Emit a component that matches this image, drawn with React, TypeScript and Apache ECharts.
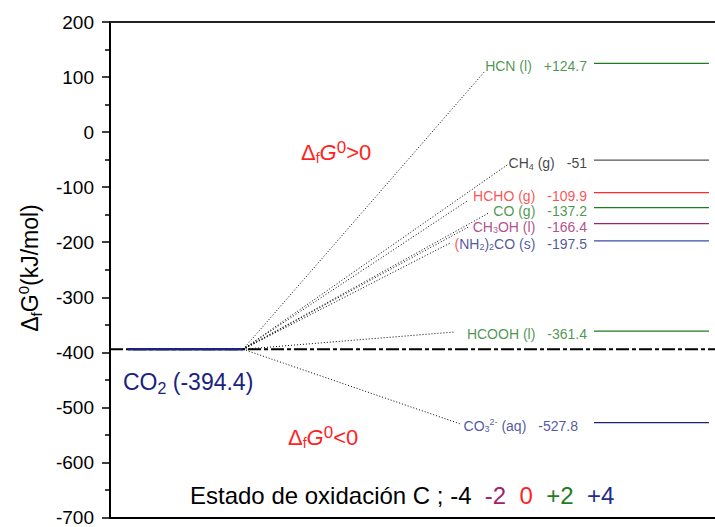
import { useEffect, useRef } from 'react';
import * as echarts from 'echarts';

const FONT = '"Liberation Sans", Arial, sans-serif';

// Reference: CO2 formation energy and its level on the diagram (x domain 0..100)
const CO2_VALUE = -394.4;
const CO2_SPAN = [3, 22];
const REF_SPAN = [0, 100];

// Products of CO2 reduction (rich-text markup for sub/superscripts)
const species = [
  'HCN (l)',
  'CH{sub|4} (g)',
  'HCHO (g)',
  'CO (g)',
  'CH{sub|3}OH (l)',
  '{red|(}NH{sub|2}){sub|2}CO (s)',
  'HCOOH (l)',
  'CO{sub|3}{sup|2-} (aq)',
];
// Standard Gibbs energy of formation, kJ/mol
const gibbs = [124.7, -51, -109.9, -137.2, -166.4, -197.5, -361.4, -527.8];
const textColors = ['#1e7b1e', '#111111', '#ff1f1f', '#1e7b1e', '#a0226e', '#1f2d8c', '#1e7b1e', '#1f2d8c'];
const lineColors = ['#1e7b1e', '#555555', '#ff2a2a', '#1e7b1e', '#a0226e', '#3a4aa8', '#1e7b1e', '#1a237e'];
// Where each dotted connector from the CO2 level ends
const connectorX = [62.0, 65.8, 59.2, 62.5, 59.2, 56.2, 57.0, 57.9];
const connectorY = [111, -58.5, -124, -147.5, -172.6, -201.6, -363, -530];
const labelGap = [7, 7, 7, 7, 7, 7, 7, 16];
const LEVEL_SPAN = [80, 99];

// Y axis
const Y_MIN = -700;
const Y_MAX = 200;
const Y_STEP = 100;

// Oxidation states of carbon shown in the legend line
const oxStates = ['-4', '-2', '0', '+2', '+4'];
const oxColors = ['#000000', '#a0226e', '#ff1f1f', '#1e7b1e', '#1f2d8c'];

const fmtValue = (v: number) => (v > 0 ? `+${v}` : `${v}`);

export default function App() {
  const ref = useRef<HTMLDivElement>(null);

  useEffect(() => {
    if (!ref.current) return;
    const chart = echarts.init(ref.current, null, { renderer: 'svg' });

    const levelSeries = gibbs.map((v, i) => ({
      type: 'line',
      data: [
        [LEVEL_SPAN[0], v],
        [LEVEL_SPAN[1], v],
      ],
      symbol: 'none',
      silent: true,
      lineStyle: { color: lineColors[i], width: 1.3 },
      z: 3,
    }));

    const connectorSeries = gibbs.map((_, i) => ({
      type: 'line',
      data: [
        [CO2_SPAN[1], CO2_VALUE],
        [connectorX[i], connectorY[i]],
      ],
      symbol: 'none',
      silent: true,
      lineStyle: { color: '#000', width: 1, type: [1, 2] },
      z: 2,
    }));

    const labelSeries = {
      type: 'scatter',
      symbol: 'circle',
      symbolSize: 0,
      itemStyle: { color: 'rgba(0,0,0,0)' },
      silent: true,
      z: 4,
      data: gibbs.map((v, i) => ({
        value: [LEVEL_SPAN[0], v],
        label: {
          show: true,
          position: 'left',
          distance: labelGap[i],
          offset: [0, 3],
          color: textColors[i],
          fontSize: 14,
          fontFamily: FONT,
          lineHeight: 16,
          formatter: `${species[i]}{val|${fmtValue(v)}}`,
          rich: {
            sub: { fontSize: 9, lineHeight: 7, verticalAlign: 'bottom', fontFamily: FONT },
            sup: { fontSize: 9, lineHeight: 8, verticalAlign: 'top', fontFamily: FONT },
            red: { color: '#ff1f1f', fontSize: 14, fontFamily: FONT },
            val: { fontSize: 14, padding: [0, 0, 0, 12], fontFamily: FONT },
          },
        },
      })),
    };

    const axisCommon = {
      type: 'value',
      min: REF_SPAN[0],
      max: REF_SPAN[1],
      axisTick: { show: false },
      axisLabel: { show: false },
      splitLine: { show: false },
    };

    chart.setOption({
      animation: false,
      backgroundColor: '#ffffff',
      grid: { left: 110, right: 0, top: 22, bottom: 8 },
      xAxis: [
        { ...axisCommon, position: 'bottom', axisLine: { show: true, onZero: false, lineStyle: { color: '#000', width: 2 } } },
        { ...axisCommon, position: 'top', axisLine: { show: true, onZero: false, lineStyle: { color: '#222', width: 2 } } },
      ],
      yAxis: {
        type: 'value',
        min: Y_MIN,
        max: Y_MAX,
        interval: Y_STEP,
        axisLine: { show: true, onZero: false, lineStyle: { color: '#000', width: 2 } },
        axisTick: { show: true, length: 8, lineStyle: { color: '#000', width: 1.5 } },
        minorTick: { show: true, splitNumber: 2, length: 5, lineStyle: { color: '#000', width: 1.5 } },
        splitLine: { show: false },
        minorSplitLine: { show: false },
        axisLabel: { fontSize: 19, color: '#000', margin: 16, fontFamily: FONT },
      },
      series: [
        {
          type: 'line',
          data: [
            [REF_SPAN[0], CO2_VALUE],
            [REF_SPAN[1], CO2_VALUE],
          ],
          symbol: 'none',
          silent: true,
          lineStyle: { color: '#000', width: 2, type: [13, 3, 4, 3] },
          z: 1,
        },
        {
          type: 'line',
          data: [
            [CO2_SPAN[0], CO2_VALUE],
            [CO2_SPAN[1], CO2_VALUE],
          ],
          symbol: 'none',
          silent: true,
          lineStyle: { color: '#1a237e', width: 2.5 },
          z: 3,
        },
        ...connectorSeries,
        ...levelSeries,
        labelSeries,
      ],
      graphic: [
        {
          type: 'text',
          x: 30,
          y: 268,
          rotation: Math.PI / 2,
          style: {
            text: 'Δ{sub|f}G{sup|0}(kJ/mol)',
            fill: '#000',
            fontSize: 23,
            fontFamily: FONT,
            lineHeight: 28,
            align: 'center',
            verticalAlign: 'middle',
            rich: {
              sub: { fontSize: 15, lineHeight: 10, verticalAlign: 'bottom', fontFamily: FONT },
              sup: { fontSize: 15, lineHeight: 20, verticalAlign: 'top', fontFamily: FONT },
            },
          },
        },
        {
          type: 'text',
          x: 301,
          y: 152,
          style: {
            text: 'Δ{sub|f}{g|G}{sup|0}>0',
            fill: '#ff1f1f',
            fontSize: 22,
            fontFamily: FONT,
            lineHeight: 26,
            align: 'left',
            verticalAlign: 'middle',
            rich: {
              sub: { fontSize: 14, lineHeight: 10, verticalAlign: 'bottom', fontFamily: FONT },
              sup: { fontSize: 17, lineHeight: 20, verticalAlign: 'top', fontFamily: FONT },
              g: { fontSize: 22, fontStyle: 'italic', fontFamily: FONT },
            },
          },
        },
        {
          type: 'text',
          x: 288,
          y: 437,
          style: {
            text: 'Δ{sub|f}{g|G}{sup|0}<0',
            fill: '#ff1f1f',
            fontSize: 22,
            fontFamily: FONT,
            lineHeight: 26,
            align: 'left',
            verticalAlign: 'middle',
            rich: {
              sub: { fontSize: 14, lineHeight: 10, verticalAlign: 'bottom', fontFamily: FONT },
              sup: { fontSize: 17, lineHeight: 20, verticalAlign: 'top', fontFamily: FONT },
              g: { fontSize: 22, fontStyle: 'italic', fontFamily: FONT },
            },
          },
        },
        {
          type: 'text',
          x: 123,
          y: 382,
          style: {
            text: `CO{sub|2} (${CO2_VALUE})`,
            fill: '#1a237e',
            fontSize: 23,
            fontFamily: FONT,
            lineHeight: 28,
            align: 'left',
            verticalAlign: 'middle',
            rich: {
              sub: { fontSize: 16, lineHeight: 8, verticalAlign: 'bottom', fontFamily: FONT },
            },
          },
        },
        {
          type: 'text',
          x: 190,
          y: 495,
          style: {
            text:
              'Estado de oxidación C ; ' +
              oxStates.map((s, i) => `{c${i}|${s}}`).join('  '),
            fill: '#000',
            fontSize: 24,
            fontFamily: FONT,
            align: 'left',
            verticalAlign: 'middle',
            rich: Object.fromEntries(
              oxColors.map((c, i) => [`c${i}`, { fill: c, fontSize: 24, fontFamily: FONT }])
            ),
          },
        },
      ],
    });

    return () => chart.dispose();
  }, []);

  return (
    <div
      ref={ref}
      style={{ position: 'absolute', left: 0, top: 0, width: 715, height: 527, background: '#fff' }}
    />
  );
}
